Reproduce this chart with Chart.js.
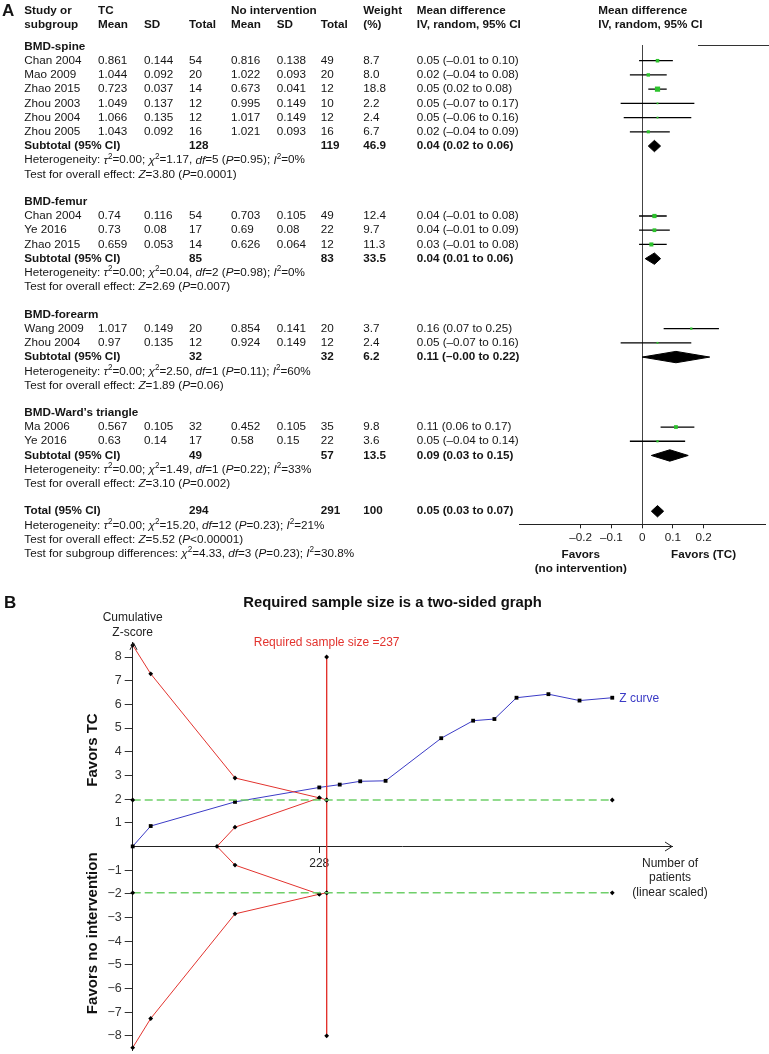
<!DOCTYPE html>
<html>
<head>
<meta charset="utf-8">
<script src="https://cdn.jsdelivr.net/npm/chart.js@4.4.0/dist/chart.umd.min.js"></script>
<style>
  html, body { margin: 0; padding: 0; background: #fff; }
  body { width: 769px; height: 1054px; position: relative; overflow: hidden; }
  canvas { position: absolute; left: 0; }
  #forest { top: 0; }
  #tsa { top: 580px; }
</style>
</head>
<body>
<canvas id="forest" width="769" height="580"></canvas>
<canvas id="tsa" width="769" height="474"></canvas>
<script>
const FONT = '"Liberation Sans", Arial, Helvetica, sans-serif';
const INK = '#151515';
const FS = 11.7;

// ---------------- panel A data ----------------
const groupNames = ['BMD-spine', 'BMD-femur', 'BMD-forearm', 'BMD-Ward\u2019s triangle'];
const studyNames = ['Chan 2004', 'Mao 2009', 'Zhao 2015', 'Zhou 2003', 'Zhou 2004', 'Zhou 2005',
                    'Chan 2004', 'Ye 2016', 'Zhao 2015',
                    'Wang 2009', 'Zhou 2004',
                    'Ma 2006', 'Ye 2016'];
const studyGroup = [0, 0, 0, 0, 0, 0, 1, 1, 1, 2, 2, 3, 3];
const tcMean = [0.861, 1.044, 0.723, 1.049, 1.066, 1.043, 0.74, 0.73, 0.659, 1.017, 0.97, 0.567, 0.63];
const tcSD   = [0.144, 0.092, 0.037, 0.137, 0.135, 0.092, 0.116, 0.08, 0.053, 0.149, 0.135, 0.105, 0.14];
const tcN    = [54, 20, 14, 12, 12, 16, 54, 17, 14, 20, 12, 32, 17];
const niMean = [0.816, 1.022, 0.673, 0.995, 1.017, 1.021, 0.703, 0.69, 0.626, 0.854, 0.924, 0.452, 0.58];
const niSD   = [0.138, 0.093, 0.041, 0.149, 0.149, 0.093, 0.105, 0.08, 0.064, 0.141, 0.149, 0.105, 0.15];
const niN    = [49, 20, 12, 10, 12, 16, 49, 22, 12, 20, 12, 35, 22];
const weight = [8.7, 8.0, 18.8, 2.2, 2.4, 6.7, 12.4, 9.7, 11.3, 3.7, 2.4, 9.8, 3.6];
const md     = [0.05, 0.02, 0.05, 0.05, 0.05, 0.02, 0.04, 0.04, 0.03, 0.16, 0.05, 0.11, 0.05];
const mdLo   = [-0.01, -0.04, 0.02, -0.07, -0.06, -0.04, -0.01, -0.01, -0.01, 0.07, -0.07, 0.06, -0.04];
const mdHi   = [0.10, 0.08, 0.08, 0.17, 0.16, 0.09, 0.08, 0.09, 0.08, 0.25, 0.16, 0.17, 0.14];

const groupTcN = [128, 85, 32, 49];
const groupNiN = [119, 83, 32, 57];
const groupWeight = [46.9, 33.5, 6.2, 13.5];
const groupMd = [0.04, 0.04, 0.11, 0.09];
const groupLo = [0.02, 0.01, -0, 0.03];
const groupHi = [0.06, 0.06, 0.22, 0.15];
const hetChi = ['1.17', '0.04', '2.50', '1.49'];
const hetDf = [5, 2, 1, 1];
const hetP = ['0.95', '0.98', '0.11', '0.22'];
const hetI2 = ['0', '0', '60', '33'];
const testZ = ['3.80', '2.69', '1.89', '3.10'];
const testP = ['=0.0001', '=0.007', '=0.06', '=0.002'];

const totalTcN = 294, totalNiN = 291, totalWeight = '100';
const totalMd = 0.05, totalLo = 0.03, totalHi = 0.07;
const totalHet = { chi: '15.20', df: 12, p: '0.23', i2: '21' };
const totalTest = { z: '5.52', p: '<0.00001' };
const subgroupTest = { chi: '4.33', df: 3, p: '0.23', i2: '30.8' };

const forestTicks = [-0.2, -0.1, 0, 0.1, 0.2];

// ---------------- panel B data ----------------
const zN   = [0, 22, 125, 228, 253, 278, 309, 377, 416, 442, 469, 508, 546, 586];
const zVal = [0, 0.86, 1.88, 2.49, 2.61, 2.75, 2.77, 4.57, 5.31, 5.38, 6.28, 6.43, 6.16, 6.28];
const bndN   = [0, 22, 125, 228, 237];
const bndUp  = [8.5, 7.29, 2.89, 2.05, 1.96];
const bndLow = [-8.5, -7.27, -2.85, -2.02, -1.96];
const futN = [228, 125, 103, 125, 228];
const futZ = [2.05, 0.81, 0, -0.79, -2.02];
const risN = 237;
const risZ = [8, 1.96, -1.96, -8];
const convN = [0, 586];
const convZ = 1.96;
const tsaXTicks = [228];
const tsaYTicks = [-8, -7, -6, -5, -4, -3, -2, -1, 0, 1, 2, 3, 4, 5, 6, 7, 8];

Chart.defaults.font.family = FONT;
Chart.defaults.color = '#222';

// --- helpers ---
function fmt2(v) {
    return (v < 0 || Object.is(v, -0) ? '\u2013' : '') + Math.abs(v).toFixed(2);
}
function ciText(m, l, h) {
    return `${fmt2(m)} (${fmt2(l)} to ${fmt2(h)})`;
}
// draws text with {i:..} italic and {s:..} superscript parts
function richText(ctx, str, x, y, size, weightStr) {
    let cx = x;
    str.split(/(\{[is]:[^}]*\})/).forEach(p => {
        if (!p) return;
        const m = p.match(/^\{([is]):([^}]*)\}$/);
        let txt = p, style = '', fs = size, dy = 0;
        if (m) {
            txt = m[2];
            if (m[1] === 'i') style = 'italic ';
            else { fs = size * 0.7; dy = -size * 0.33; }
        }
        ctx.font = `${style}${weightStr} ${fs}px ${FONT}`;
        ctx.fillText(txt, cx, y + dy);
        cx += ctx.measureText(txt).width;
    });
}
function hetString(chi, df, p, i2) {
    return `Heterogeneity: {i:\u03c4}{s:2}=0.00; {i:\u03c7}{s:2}=${chi}, {i:df}=${df} ({i:P}=${p}); {i:I}{s:2}=${i2}%`;
}
function testString(z, p) {
    return `Test for overall effect: {i:Z}=${z} ({i:P}${p})`;
}

// ---------------- row layout for panel A ----------------
const GAP = 0.92;
const rows = [];
const studyRow = [];
const groupRow = [];
let u = 0;
groupNames.forEach((g, gi) => {
    rows.push({ u: u++, kind: 'group', gi });
    studyGroup.forEach((sg, si) => {
        if (sg === gi) { studyRow[si] = u; rows.push({ u: u++, kind: 'study', si }); }
    });
    groupRow[gi] = u;
    rows.push({ u: u++, kind: 'subtotal', gi });
    rows.push({ u: u++, kind: 'het', gi });
    rows.push({ u: u++, kind: 'test', gi });
    u += GAP;
});
const totalRow = u;
rows.push({ u: u++, kind: 'total' });
rows.push({ u: u++, kind: 'totalHet' });
rows.push({ u: u++, kind: 'totalTest' });
rows.push({ u: u++, kind: 'subgroup' });

const colX = { name: 24.3, tcMean: 98, tcSD: 144, tcN: 189, niMean: 231, niSD: 276.7, niN: 320.7, weight: 363.3, ci: 416.7 };

const DIA = 0.4;
function diamond(m, l, h, row) {
    return [{ x: l, y: row }, { x: m, y: row - DIA }, { x: h, y: row }, { x: m, y: row + DIA }, { x: l, y: row }];
}

const ciData = [];
studyNames.forEach((s, i) => {
    ciData.push({ x: mdLo[i], y: studyRow[i] }, { x: mdHi[i], y: studyRow[i] }, { x: null, y: null });
});

const diamondSets = groupNames.map((g, gi) => diamond(groupMd[gi], groupLo[gi], groupHi[gi], groupRow[gi]));
diamondSets.push(diamond(totalMd, totalLo, totalHi, totalRow));

const forestText = {
    id: 'forestText',
    afterDraw(chart) {
        const ctx = chart.ctx, ys = chart.scales.y, xs = chart.scales.x, area = chart.chartArea;
        ctx.save();
        ctx.fillStyle = INK;
        ctx.textBaseline = 'middle';
        ctx.textAlign = 'left';
        ctx.font = `bold 17px ${FONT}`;
        ctx.fillText('A', 2, 11);

        const h1 = area.top - 34, h2 = area.top - 20;
        ctx.font = `bold ${FS}px ${FONT}`;
        [['Study or', colX.name, h1], ['subgroup', colX.name, h2],
         ['TC', colX.tcMean, h1], ['Mean', colX.tcMean, h2], ['SD', colX.tcSD, h2], ['Total', colX.tcN, h2],
         ['No intervention', colX.niMean, h1], ['Mean', colX.niMean, h2], ['SD', colX.niSD, h2], ['Total', colX.niN, h2],
         ['Weight', colX.weight, h1], ['(%)', colX.weight, h2],
         ['Mean difference', colX.ci, h1], ['IV, random, 95% CI', colX.ci, h2],
         ['Mean difference', 598.3, h1], ['IV, random, 95% CI', 598.3, h2]
        ].forEach(t => ctx.fillText(t[0], t[1], t[2]));

        const bold = `bold ${FS}px ${FONT}`, norm = `${FS}px ${FONT}`;
        rows.forEach(r => {
            const y = ys.getPixelForValue(r.u);
            if (r.kind === 'group') {
                ctx.font = bold;
                ctx.fillText(groupNames[r.gi], colX.name, y);
            } else if (r.kind === 'study') {
                const i = r.si;
                ctx.font = norm;
                ctx.fillText(studyNames[i], colX.name, y);
                ctx.fillText(String(tcMean[i]), colX.tcMean, y);
                ctx.fillText(String(tcSD[i]), colX.tcSD, y);
                ctx.fillText(String(tcN[i]), colX.tcN, y);
                ctx.fillText(String(niMean[i]), colX.niMean, y);
                ctx.fillText(String(niSD[i]), colX.niSD, y);
                ctx.fillText(String(niN[i]), colX.niN, y);
                ctx.fillText(weight[i].toFixed(1), colX.weight, y);
                ctx.fillText(ciText(md[i], mdLo[i], mdHi[i]), colX.ci, y);
            } else if (r.kind === 'subtotal') {
                const g = r.gi;
                ctx.font = bold;
                ctx.fillText('Subtotal (95% CI)', colX.name, y);
                ctx.fillText(String(groupTcN[g]), colX.tcN, y);
                ctx.fillText(String(groupNiN[g]), colX.niN, y);
                ctx.fillText(groupWeight[g].toFixed(1), colX.weight, y);
                ctx.fillText(ciText(groupMd[g], groupLo[g], groupHi[g]), colX.ci, y);
            } else if (r.kind === 'het') {
                const g = r.gi;
                richText(ctx, hetString(hetChi[g], hetDf[g], hetP[g], hetI2[g]), colX.name, y, FS, 'normal');
            } else if (r.kind === 'test') {
                richText(ctx, testString(testZ[r.gi], testP[r.gi]), colX.name, y, FS, 'normal');
            } else if (r.kind === 'total') {
                ctx.font = bold;
                ctx.fillText('Total (95% CI)', colX.name, y);
                ctx.fillText(String(totalTcN), colX.tcN, y);
                ctx.fillText(String(totalNiN), colX.niN, y);
                ctx.fillText(totalWeight, colX.weight, y);
                ctx.fillText(ciText(totalMd, totalLo, totalHi), colX.ci, y);
            } else if (r.kind === 'totalHet') {
                richText(ctx, hetString(totalHet.chi, totalHet.df, totalHet.p, totalHet.i2), colX.name, y, FS, 'normal');
            } else if (r.kind === 'totalTest') {
                richText(ctx, testString(totalTest.z, totalTest.p), colX.name, y, FS, 'normal');
            } else if (r.kind === 'subgroup') {
                richText(ctx, `Test for subgroup differences: {i:\u03c7}{s:2}=${subgroupTest.chi}, {i:df}=${subgroupTest.df} ({i:P}=${subgroupTest.p}); {i:I}{s:2}=${subgroupTest.i2}%`, colX.name, y, FS, 'normal');
            }
        });

        // favours labels under the axis
        ctx.font = bold;
        ctx.textAlign = 'center';
        const fx1 = xs.getPixelForValue(-0.2), fx2 = xs.getPixelForValue(0.2);
        ctx.fillText('Favors', fx1, area.bottom + 30);
        ctx.fillText('(no intervention)', fx1, area.bottom + 44);
        ctx.fillText('Favors (TC)', fx2, area.bottom + 30);

        // rule under the header on the right
        ctx.strokeStyle = '#333';
        ctx.lineWidth = 1;
        ctx.beginPath();
        ctx.moveTo(698, Math.round(area.top) + 0.5);
        ctx.lineTo(769, Math.round(area.top) + 0.5);
        ctx.stroke();
        ctx.restore();
    }
};

new Chart(document.getElementById('forest'), {
    type: 'line',
    data: {
        datasets: [
            {
                data: ciData, borderColor: '#000', borderWidth: 1.3, pointRadius: 0,
                spanGaps: false, clip: false, order: 2
            },
            {
                data: studyNames.map((s, i) => ({ x: md[i], y: studyRow[i] })),
                showLine: false, pointStyle: 'rect',
                pointRadius: ctx => 0.85 * Math.sqrt(weight[ctx.dataIndex]),
                pointBackgroundColor: '#2cc22c', pointBorderWidth: 0, clip: false, order: 0
            },
            ...diamondSets.map(d => ({
                data: d, borderColor: '#000', backgroundColor: '#000', borderWidth: 1,
                fill: 'shape', pointRadius: 0, clip: false, order: 1
            }))
        ]
    },
    options: {
        responsive: false,
        animation: false,
        devicePixelRatio: 1,
        layout: { padding: { left: 519.3, right: 1.7, top: 45, bottom: 35.7 } },
        plugins: { legend: { display: false }, tooltip: { enabled: false } },
        scales: {
            x: {
                type: 'linear', min: -0.4, max: 0.4, position: 'bottom',
                afterBuildTicks: s => { s.ticks = forestTicks.map(v => ({ value: v })); },
                afterFit: s => { s.height = 20; s.paddingLeft = 0; s.paddingRight = 0; },
                ticks: {
                    padding: 2, color: '#222', font: { size: FS },
                    callback: v => (v < 0 ? '\u2013' + Math.abs(v) : String(v))
                },
                grid: {
                    drawOnChartArea: true, tickLength: 4,
                    color: ctx => (ctx.tick && ctx.tick.value === 0 ? '#444' : 'rgba(0,0,0,0)'),
                    tickColor: '#222'
                },
                border: { color: '#222', width: 1 }
            },
            y: { type: 'linear', min: -0.105, max: 33.6, reverse: true, display: false }
        }
    },
    plugins: [forestText]
});

// ---------------- panel B ----------------
const RED = '#e2332e', BLUE = '#3b3bc6', GREEN = '#6fcf6a';
const pts = (xs, ys) => xs.map((x, i) => ({ x, y: ys[i] }));

const tsaText = {
    id: 'tsaText',
    afterDraw(chart) {
        const ctx = chart.ctx, xs = chart.scales.x, ys = chart.scales.y, area = chart.chartArea;
        const y0 = ys.getPixelForValue(0);
        ctx.save();
        ctx.textBaseline = 'middle';
        ctx.fillStyle = '#111';
        ctx.textAlign = 'left';
        ctx.font = `bold 17px ${FONT}`;
        ctx.fillText('B', 4, 23);
        ctx.textAlign = 'center';
        ctx.font = `bold 14.8px ${FONT}`;
        ctx.fillText('Required sample size is a two-sided graph', 392.5, 23);

        ctx.font = `12px ${FONT}`;
        ctx.fillStyle = '#222';
        ctx.fillText('Cumulative', area.left, ys.getPixelForValue(8.5) - 27);
        ctx.fillText('Z-score', area.left, ys.getPixelForValue(8.5) - 12.5);

        ctx.fillText('Number of', area.right - 2, y0 + 17.7);
        ctx.fillText('patients', area.right - 2, y0 + 31.7);
        ctx.fillText('(linear scaled)', area.right - 2, y0 + 46);

        ctx.fillStyle = RED;
        ctx.fillText('Required sample size =' + risN, xs.getPixelForValue(risN), ys.getPixelForValue(8) - 14);

        ctx.fillStyle = BLUE;
        ctx.textAlign = 'left';
        const last = zN.length - 1;
        ctx.fillText('Z curve', xs.getPixelForValue(zN[last]) + 7, ys.getPixelForValue(zVal[last]) + 1);

        // rotated side labels
        ctx.fillStyle = '#111';
        ctx.font = `bold 15px ${FONT}`;
        ctx.textAlign = 'center';
        [['Favors TC', 4.07], ['Favors no intervention', -3.67]].forEach(t => {
            ctx.save();
            ctx.translate(93, ys.getPixelForValue(t[1]));
            ctx.rotate(-Math.PI / 2);
            ctx.fillText(t[0], 0, 0);
            ctx.restore();
        });

        // axis arrow heads
        ctx.strokeStyle = '#222';
        ctx.lineWidth = 1;
        ctx.beginPath();
        const ax = Math.round(area.left) + 0.5;
        ctx.moveTo(ax - 3.5, area.top + 7);
        ctx.lineTo(ax, area.top);
        ctx.lineTo(ax + 3.5, area.top + 7);
        const ay = Math.round(y0) + 0.5;
        ctx.moveTo(area.right - 7, ay - 4.5);
        ctx.lineTo(area.right, ay);
        ctx.lineTo(area.right - 7, ay + 4.5);
        ctx.stroke();
        ctx.restore();
    }
};

const boundaryStyle = {
    borderColor: RED, borderWidth: 1, pointStyle: 'rectRot', pointRadius: 2.4,
    pointBackgroundColor: '#000', pointBorderWidth: 0, clip: false
};

new Chart(document.getElementById('tsa'), {
    type: 'line',
    data: {
        datasets: [
            {
                data: pts(convN, convN.map(() => convZ)), borderColor: GREEN, borderWidth: 1.5, borderDash: [8, 4],
                pointStyle: 'rectRot', pointRadius: 2.4, pointBackgroundColor: '#000', pointBorderWidth: 0, clip: false
            },
            {
                data: pts(convN, convN.map(() => -convZ)), borderColor: GREEN, borderWidth: 1.5, borderDash: [8, 4],
                pointStyle: 'rectRot', pointRadius: 2.4, pointBackgroundColor: '#000', pointBorderWidth: 0, clip: false
            },
            { data: pts(bndN, bndUp), ...boundaryStyle },
            { data: pts(bndN, bndLow), ...boundaryStyle },
            { data: pts(futN, futZ), ...boundaryStyle },
            { data: pts(risZ.map(() => risN), risZ), ...boundaryStyle },
            {
                data: pts(zN, zVal), borderColor: BLUE, borderWidth: 1, pointStyle: 'rect', pointRadius: 2.7,
                pointBackgroundColor: '#000', pointBorderWidth: 0, clip: false
            }
        ]
    },
    options: {
        responsive: false,
        animation: false,
        devicePixelRatio: 1,
        layout: { padding: { left: 92.7, right: 97, top: 62.8, bottom: 0.2 } },
        plugins: { legend: { display: false }, tooltip: { enabled: false } },
        scales: {
            x: {
                type: 'linear', min: 0, max: 659, position: { y: 0 },
                afterBuildTicks: s => { s.ticks = tsaXTicks.map(v => ({ value: v })); },
                afterFit: s => { s.height = 0; s.paddingLeft = 0; s.paddingRight = 0; },
                ticks: { padding: 4, color: '#222', font: { size: 12 } },
                grid: { drawOnChartArea: false, tickLength: 6, tickColor: '#222' },
                border: { color: '#222', width: 1 }
            },
            y: {
                type: 'linear', min: -8.6, max: 8.6, position: 'left',
                afterBuildTicks: s => { s.ticks = tsaYTicks.map(v => ({ value: v })); },
                afterFit: s => { s.width = 40; s.paddingTop = 0; s.paddingBottom = 0; },
                ticks: {
                    padding: 3, color: '#333', font: { size: 12.5 },
                    callback: v => (v === 0 ? '' : (v < 0 ? '\u2212' + Math.abs(v) : String(v)))
                },
                grid: {
                    drawOnChartArea: false, tickLength: 8,
                    tickColor: ctx => (ctx.tick && ctx.tick.value === 0 ? 'rgba(0,0,0,0)' : '#333')
                },
                border: { color: '#222', width: 1 }
            }
        }
    },
    plugins: [tsaText]
});
</script>
</body>
</html>
